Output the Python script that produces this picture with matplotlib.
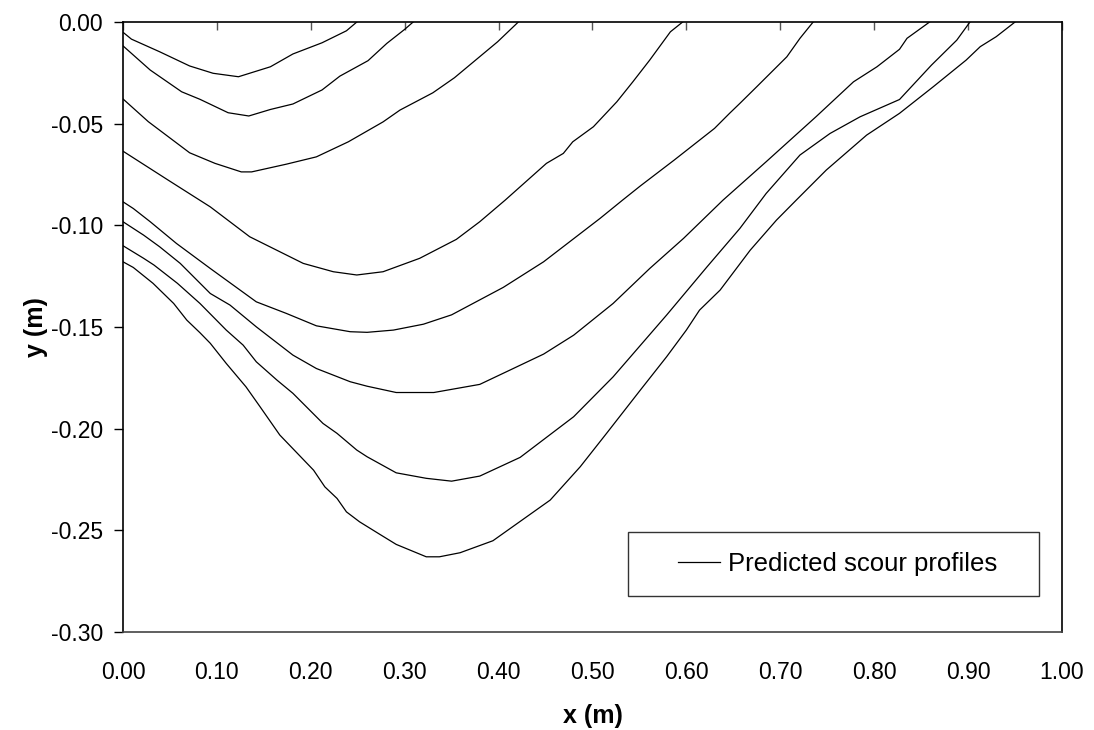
import matplotlib.pyplot as plt
from matplotlib.patches import Rectangle
import numpy as np

plt.rcParams['font.family'] = ['Liberation Sans', 'DejaVu Sans']
plt.rcParams['axes.unicode_minus'] = False

# scour profiles, x (m) / y (m), shallowest first
x1 = [0, 0.009, 0.039, 0.071, 0.096, 0.123, 0.157, 0.181, 0.212, 0.238, 0.249]
y1 = [-0.005, -0.0084, -0.0146, -0.0216, -0.0252, -0.0269, -0.022, -0.0157, -0.0102, -0.0043, 0.0]

x2 = [0, 0.029, 0.0625, 0.082, 0.112, 0.134, 0.157, 0.181, 0.212, 0.231, 0.261, 0.281, 0.300, 0.309]
y2 = [-0.0117, -0.0236, -0.0343, -0.038, -0.0446, -0.0462, -0.043, -0.0403, -0.0334, -0.0266,
      -0.019, -0.0105, -0.0036, 0.0]

x3 = [0, 0.027, 0.071, 0.098, 0.126, 0.137, 0.174, 0.206, 0.240, 0.277, 0.295, 0.330, 0.353,
      0.399, 0.421]
y3 = [-0.0378, -0.049, -0.0643, -0.0695, -0.0737, -0.0737, -0.0699, -0.0663, -0.0589, -0.0491,
      -0.0433, -0.0348, -0.0274, -0.0097, 0.0]

x4 = [0, 0.048, 0.093, 0.135, 0.192, 0.224, 0.249, 0.277, 0.316, 0.355, 0.380, 0.407, 0.451,
      0.469, 0.479, 0.501, 0.526, 0.543, 0.561, 0.583, 0.596]
y4 = [-0.0635, -0.0777, -0.0909, -0.1056, -0.1187, -0.1228, -0.1244, -0.1228, -0.1162, -0.1069,
      -0.0982, -0.0876, -0.0695, -0.0646, -0.0589, -0.0515, -0.0392, -0.0294, -0.0187, -0.0048, 0.0]

x5 = [0, 0.011, 0.029, 0.057, 0.093, 0.142, 0.174, 0.206, 0.242, 0.260, 0.288, 0.320, 0.350,
      0.405, 0.448, 0.508, 0.532, 0.551, 0.587, 0.630, 0.646, 0.657, 0.675, 0.707, 0.721, 0.735]
y5 = [-0.0884, -0.0917, -0.0982, -0.1089, -0.1212, -0.1376, -0.1433, -0.1494, -0.1523, -0.1526,
      -0.1515, -0.1486, -0.144, -0.1305, -0.1179, -0.0966, -0.0876, -0.0806, -0.0679, -0.0523,
      -0.0449, -0.04, -0.0318, -0.0171, -0.008, 0.0]

x6 = [0, 0.022, 0.039, 0.061, 0.093, 0.114, 0.142, 0.181, 0.206, 0.242, 0.260, 0.291, 0.331,
      0.380, 0.412, 0.448, 0.480, 0.522, 0.561, 0.597, 0.639, 0.685, 0.738, 0.778, 0.803, 0.827,
      0.835, 0.859]
y6 = [-0.0982, -0.1048, -0.1105, -0.1187, -0.1335, -0.1392, -0.1499, -0.1638, -0.1704, -0.1769,
      -0.1791, -0.1822, -0.1822, -0.1782, -0.1712, -0.1633, -0.154, -0.1384, -0.1212, -0.1064,
      -0.0876, -0.0687, -0.0466, -0.0294, -0.022, -0.0134, -0.008, 0.0]

x7 = [0, 0.022, 0.033, 0.058, 0.082, 0.110, 0.128, 0.142, 0.164, 0.181, 0.213, 0.228, 0.249,
      0.260, 0.291, 0.323, 0.350, 0.380, 0.423, 0.480, 0.522, 0.579, 0.622, 0.657, 0.685, 0.721,
      0.753, 0.785, 0.827, 0.861, 0.888, 0.902]
y7 = [-0.110, -0.1162, -0.1195, -0.1285, -0.1384, -0.1515, -0.1589, -0.1671, -0.1761, -0.1826,
      -0.1974, -0.2023, -0.2105, -0.2138, -0.2217, -0.2244, -0.2258, -0.2233, -0.2141, -0.1941,
      -0.1745, -0.1441, -0.1204, -0.1015, -0.0843, -0.0654, -0.0548, -0.0466, -0.0381, -0.0212,
      -0.0089, 0.0]

x8 = [0, 0.011, 0.032, 0.054, 0.068, 0.082, 0.093, 0.110, 0.131, 0.146, 0.167, 0.203, 0.215,
      0.228, 0.238, 0.252, 0.273, 0.291, 0.323, 0.337, 0.359, 0.394, 0.455, 0.487, 0.515, 0.551,
      0.579, 0.600, 0.614, 0.636, 0.668, 0.696, 0.717, 0.749, 0.792, 0.827, 0.863, 0.898, 0.913,
      0.930, 0.950]
y8 = [-0.1179, -0.1207, -0.1285, -0.1384, -0.1466, -0.1528, -0.158, -0.1679, -0.1794, -0.1892,
      -0.2031, -0.2204, -0.2286, -0.2343, -0.2409, -0.2458, -0.2518, -0.2569, -0.263, -0.263,
      -0.261, -0.2551, -0.2351, -0.2187, -0.2023, -0.181, -0.1646, -0.1515, -0.1417, -0.1318,
      -0.1122, -0.0974, -0.0876, -0.0728, -0.0556, -0.0449, -0.0318, -0.0187, -0.0121, -0.0072, 0.0]

profiles = [(x1, y1), (x2, y2), (x3, y3), (x4, y4), (x5, y5), (x6, y6), (x7, y7), (x8, y8)]

xticks = [0.0, 0.1, 0.2, 0.3, 0.4, 0.5, 0.6, 0.7, 0.8, 0.9, 1.0]
yticks = [-0.30, -0.25, -0.20, -0.15, -0.10, -0.05, 0.0]

fig = plt.figure(figsize=(10.94, 7.30), dpi=100)
ax = fig.add_axes([0.1124, 0.1342, 0.8583, 0.8356])

for i, (xs, ys) in enumerate(profiles):
    ax.plot(xs, ys, color='black', lw=0.9,
            label='Predicted scour profiles' if i == 0 else None)

ax.set_xlim(0, 1)
ax.set_ylim(-0.30, 0)

ax.set_xticks(xticks, labels=[f'{v:.2f}' for v in xticks])
ax.set_yticks(yticks, labels=[f'{v:.2f}' for v in yticks])
ax.tick_params(axis='x', top=True, bottom=False, labeltop=False, labelbottom=True,
               direction='in', length=6, width=1, color='#555555', pad=21, labelsize=16.5)
ax.tick_params(axis='y', direction='out', length=6.5, width=1, color='black', pad=8,
               labelsize=16.5)

for s in ax.spines.values():
    s.set_color('black')
    s.set_linewidth(1.2)
ax.spines['bottom'].set_color('#444444')

ax.set_xlabel('x (m)', fontsize=18, fontweight='bold', labelpad=14)
ax.set_ylabel('y (m)', fontsize=18, fontweight='bold', labelpad=2)

# legend frame is wider than its content, so draw the box separately
ax.add_patch(Rectangle((0.538, 0.059), 0.4377, 0.105, transform=ax.transAxes,
                       fill=False, edgecolor='#333333', lw=1.0))
ax.legend(frameon=False, loc='center left', bbox_to_anchor=(0.591, 0.1115),
          borderaxespad=0, borderpad=0, handlelength=1.63, handletextpad=0.31,
          fontsize=18.5)

plt.savefig('out.png', dpi=100)
plt.close(fig)
